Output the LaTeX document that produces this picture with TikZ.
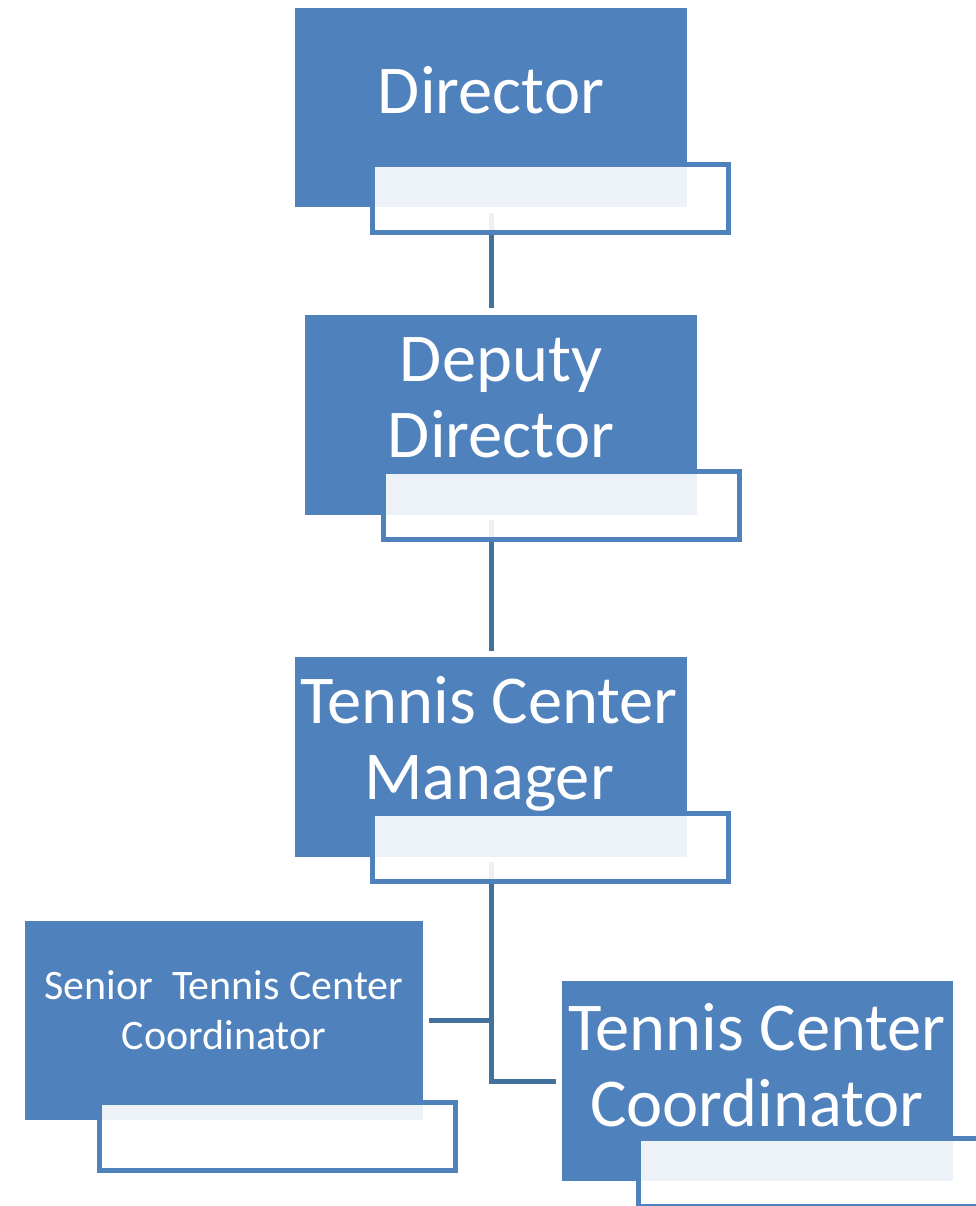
\documentclass[tikz,border=0pt]{standalone}
\usepackage{fontspec}
\setmainfont{Carlito}
\usetikzlibrary{calc}
\definecolor{boxblue}{HTML}{4F81BD}
\definecolor{linkblue}{HTML}{41719C}
\begin{document}
\begin{tikzpicture}[x=1pt,y=-1pt,
  mainbox/.style={rectangle, fill=boxblue, draw=none, inner sep=0pt, outer sep=0pt},
  subbox/.style={rectangle, draw=boxblue, line width=5pt, fill=white, fill opacity=0.9, draw opacity=1, inner sep=0pt, outer sep=0pt, minimum width=356pt, minimum height=68pt},
  conn/.style={draw=linkblue, line width=5pt},
  bigtext/.style={text=white, font=\fontsize{68.5}{75.5}\selectfont, align=center, anchor=base, inner sep=0pt},
  smalltext/.style={text=white, font=\fontsize{42}{50}\selectfont, align=center, anchor=base, inner sep=0pt}]
\useasboundingbox (0,0) rectangle (976,1206);
\fill[white] (0,0) rectangle (976,1206);
% main boxes
\node[mainbox, minimum width=392pt, minimum height=199pt] (dir) at (491,107.5) {};
\node[mainbox, minimum width=392pt, minimum height=200pt] (dep) at (501,415) {};
\node[mainbox, minimum width=392pt, minimum height=200pt] (mgr) at (491,757) {};
\node[mainbox, minimum width=398pt, minimum height=199pt] (sen) at (224,1020.5) {};
\node[mainbox, minimum width=391pt, minimum height=200pt] (tcc) at (757.5,1081) {};
% connectors
\draw[conn] ([yshift=-6pt]dir.south) -- ($(dep.north -| dir.south)+(0pt,7pt)$);
\draw[conn] ($(dep.south -| dir.south)+(0pt,-5pt)$) -- ($(mgr.north)+(0pt,6pt)$);
\draw[conn] ([yshift=-5pt]mgr.south) -- (tcc.west -| mgr.south) -- ([xshift=-6pt]tcc.west);
\draw[conn] ([xshift=6pt]sen.east) -- (sen.east -| mgr.south);
% secondary boxes
\node[subbox] (dir2) at (550.5,198.5) {};
\node[subbox] (dep2) at (561,505.5) {};
\node[subbox] (mgr2) at (550.5,847.5) {};
\node[subbox] (sen2) at (277.5,1136.5) {};
\node[subbox] (tcc2) at (816.5,1172.5) {};
% texts (base anchor = baseline of the last line)
\node[bigtext] (dirt) at (491,114) {Director};
\node[bigtext] (dept) at (501,457) {Deputy\\Director};
\node[bigtext] (mgrt) at (489,799) {Tennis Center\\Manager};
\node[smalltext] (sent) at (224,1049) {Senior\ \ Tennis Center\\Coordinator};
\node[bigtext] (tcct) at (757,1126) {Tennis Center\\Coordinator};
\end{tikzpicture}
\end{document}
